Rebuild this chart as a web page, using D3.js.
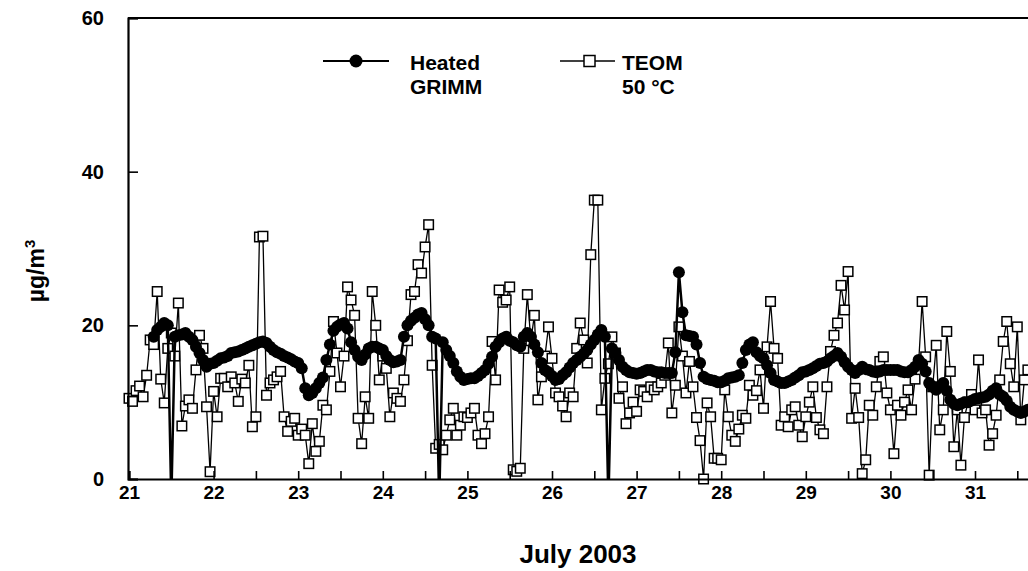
<!DOCTYPE html>
<html>
<head>
<meta charset="utf-8">
<script src="https://cdn.jsdelivr.net/npm/d3@7/dist/d3.min.js"></script>
<style>
  html, body { margin: 0; padding: 0; background: #fff; }
  svg { display: block; }
  text { font-family: "Liberation Sans", Arial, sans-serif; font-weight: bold; fill: #000; }
</style>
</head>
<body>
<svg id="chart" width="1028" height="571"></svg>
<script>
// ---------------- DATA ----------------
// Time axis: days of July 2003; hourly samples
const dayTicks = [21, 22, 23, 24, 25, 26, 27, 28, 29, 30, 31];
const yTicks = [0, 20, 40, 60];
const seriesNames = ["Heated", "GRIMM", "TEOM", "50 \u00B0C"];
const xTitle = "July 2003";

// TEOM 50 °C, hourly values starting 21 July 00:00 (µg/m³)
const teomStartDay = 21;
const teomValues = [
  10.5, 10.1, 11.5, 12.1, 10.7, 13.5, 18.1, 17.5, 24.4, 13.0,
  9.9, 17.0, 19.0, 16.0, 22.9, 6.9, 9.5, 10.3, 9.2, 14.2,
  18.7, 17.0, 9.4, 0.95, 11.4, 8.1, 13.1, 13.1, 12.0, 13.3,
  12.5, 10.1, 13.0, 12.5, 14.8, 6.8, 8.1, 31.5, 31.6, 10.9,
  12.5, 12.9, 13.3, 14.0, 8.1, 6.2, 7.5, 7.9, 5.7, 6.5,
  5.7, 2.0, 7.2, 3.6, 4.9, 9.6, 9.0, 14.0, 20.5, 16.4,
  12.0, 16.0, 25.0, 23.3, 21.3, 7.9, 4.6, 10.7, 7.9, 24.4,
  20.0, 12.9, 16.0, 14.4, 8.1, 11.2, 10.5, 10.1, 12.9, 18.0,
  24.0, 24.4, 27.9, 26.8, 30.2, 33.1, 14.8, 4.0, 4.5, 3.8,
  5.7, 7.7, 9.2, 5.7, 7.0, 8.1, 8.0, 8.6, 9.2, 5.7,
  4.6, 5.9, 8.1, 17.9, 12.9, 24.6, 23.0, 23.3, 25.0, 1.2,
  1.0, 1.4, 17.0, 24.0, 18.0, 21.3, 10.3, 13.3, 16.0, 19.8,
  15.7, 11.2, 10.7, 9.5, 8.1, 11.2, 10.7, 17.0, 20.3, 18.1,
  15.1, 29.2, 36.3, 36.3, 9.0, 13.1, 15.0, 18.5, 16.4, 10.5,
  12.0, 7.2, 8.6, 10.0, 8.8, 11.6, 11.4, 10.7, 12.0, 11.6,
  12.0, 12.5, 13.5, 17.7, 8.6, 12.2, 19.8, 16.0, 11.2, 15.3,
  12.0, 8.0, 5.0, 0.0, 9.9, 8.1, 2.7, 2.7, 2.5, 11.6,
  8.1, 5.7, 4.9, 6.5, 8.3, 7.9, 12.2, 10.9, 11.5, 14.2,
  9.2, 17.2, 23.1, 17.0, 15.7, 7.0, 8.1, 6.8, 9.0, 9.4,
  7.0, 5.5, 8.1, 10.0, 12.0, 8.0, 6.4, 5.9, 12.0, 16.6,
  18.7, 20.3, 25.2, 22.0, 27.0, 7.9, 11.8, 8.0, 0.7, 2.5,
  9.6, 8.3, 12.0, 15.3, 15.9, 11.2, 9.0, 3.3, 9.6, 8.3,
  10.0, 11.6, 9.0, 13.0, 15.0, 23.1, 15.9, 0.5, 12.0, 17.4,
  6.4, 9.0, 19.2, 14.0, 4.2, 9.0, 1.8, 8.0, 10.0, 11.0,
  9.0, 15.5, 8.6, 9.0, 4.4, 5.9, 8.3, 12.9, 17.9, 20.5,
  15.0, 12.0, 19.8, 7.7, 12.9, 14.2
];

// Heated GRIMM, hourly values starting 21 July 07:00 (µg/m³)
const grimmStartDay = 21 + 7 / 24;
const grimmValues = [
  18.5, 19.4, 19.8, 20.3, 20.0, -3, 18.5, 18.7, 18.8, 19.0,
  18.5, 18.1, 17.2, 16.4, 15.5, 14.6, 15.0, 15.1, 15.4, 15.7,
  15.8, 16.0, 16.4, 16.5, 16.6, 16.8, 17.0, 17.2, 17.4, 17.6,
  17.8, 17.9, 17.7, 17.2, 16.8, 16.5, 16.3, 16.0, 15.8, 15.6,
  15.3, 15.1, 14.4, 11.8, 10.9, 11.2, 11.8, 12.5, 13.2, 15.5,
  17.5, 19.3, 19.8, 20.1, 20.3, 19.6, 17.8, 16.8, 15.9, 15.5,
  16.2, 17.0, 17.2, 17.2, 17.0, 16.8, 16.0, 15.5, 15.2, 15.3,
  15.5, 18.5, 20.0, 20.6, 21.0, 21.4, 21.6, 20.8, 20.0, 18.5,
  18.3, -3, 17.8, 16.8, 16.0, 15.1, 14.0, 13.3, 12.9, 13.0,
  13.1, 13.1, 13.4, 13.8, 14.2, 15.0, 15.9, 17.2, 17.8, 18.3,
  18.5, 18.0, 17.8, 17.4, 17.2, 18.5, 19.0, 18.5, 17.5, 16.5,
  15.1, 14.2, 13.9, 13.4, 12.9, 13.0, 13.5, 13.9, 14.5, 15.1,
  15.5, 15.9, 16.3, 16.8, 17.5, 18.1, 18.8, 19.4, 18.5, -3,
  17.0, 16.4, 15.5, 14.6, 14.2, 13.9, 13.8, 13.7, 13.8, 14.0,
  14.2, 14.2, 14.0, 13.9, 13.9, 13.8, 13.8, 13.8, 16.5, 26.9,
  21.7, 18.7, 18.6, 18.5, 17.5, 15.1, 13.3, 13.0, 12.9, 12.8,
  12.6, 12.6, 12.8, 13.1, 13.2, 13.3, 13.5, 15.1, 16.8, 17.5,
  17.8, 16.5, 16.0, 15.7, 14.8, 13.8, 12.9, 12.7, 12.5, 12.5,
  12.7, 12.9, 13.2, 13.5, 13.9, 14.0, 14.2, 14.4, 14.7, 15.0,
  15.1, 15.3, 15.7, 16.0, 16.4, 15.9, 15.2, 14.6, 14.2, 13.8,
  14.2, 14.6, 14.3, 14.2, 14.0, 13.9, 14.0, 14.2, 14.2, 14.2,
  14.2, 14.2, 14.0, 13.9, 13.9, 14.2, 14.6, 15.5, 15.0, 14.0,
  12.5, 12.0, 11.6, 12.0, 12.5, 11.5, 10.3, 9.8, 9.6, 9.8,
  10.0, 10.0, 10.2, 10.4, 10.5, 10.6, 10.7, 11.0, 11.5, 11.8,
  11.0, 10.7, 10.2, 9.4, 9.0, 8.8, 8.6, 8.8, 9.0
];

// ---------------- CHART ----------------
const svg = d3.select("#chart");
const left = 129, dayPx = 84.6;
const x = d3.scaleLinear().domain([21, 32]).range([left, left + 11 * dayPx]);
const y = d3.scaleLinear().domain([0, 60]).range([479, 18]);

const teom = teomValues.map((v, i) => ({ t: teomStartDay + i / 24, v }));
const grimm = grimmValues.map((v, i) => ({ t: grimmStartDay + i / 24, v }));

svg.append("defs").append("clipPath").attr("id", "plotclip")
  .append("rect").attr("x", x(21) - 1).attr("y", y(60)).attr("width", x(32) - x(21) + 2).attr("height", y(0) - y(60));

const line = d3.line().x(d => x(d.t)).y(d => y(d.v));

// TEOM (underneath)
const gT = svg.append("g");
gT.append("path").datum(teom).attr("d", line)
  .attr("fill", "none").attr("stroke", "#000").attr("stroke-width", 1.3);
const sq = 9.5;
gT.selectAll("rect").data(teom).join("rect")
  .attr("x", d => x(d.t) - sq / 2).attr("y", d => y(d.v) - sq / 2)
  .attr("width", sq).attr("height", sq)
  .attr("fill", "#fff").attr("stroke", "#000").attr("stroke-width", 1.5);

// GRIMM (on top)
const gG = svg.append("g").attr("clip-path", "url(#plotclip)");
gG.append("path").datum(grimm).attr("d", line)
  .attr("fill", "none").attr("stroke", "#000").attr("stroke-width", 2.5);
gG.selectAll("circle").data(grimm).join("circle")
  .attr("cx", d => x(d.t)).attr("cy", d => y(d.v)).attr("r", 6).attr("fill", "#000");

// Axes
const halfDays = d3.range(21, 32.01, 0.5);
const xAxis = d3.axisBottom(x).tickValues(halfDays).tickSize(-8).tickPadding(7)
  .tickFormat(d => (Number.isInteger(d) && dayTicks.includes(d)) ? d : "");
const gx = svg.append("g").attr("transform", `translate(0,${y(0)})`).call(xAxis);
gx.select(".domain").attr("stroke-width", 2.2);
gx.selectAll(".tick line").attr("stroke-width", 1.6);
gx.selectAll(".tick text").style("font-size", "19px").style("font-family", "Liberation Sans, Arial, sans-serif").style("font-weight", "bold");

const yAxis = d3.axisLeft(y).tickValues(yTicks).tickSize(-10).tickPadding(24);
const gy = svg.append("g").attr("transform", `translate(${x(21) - 1},0)`).call(yAxis);
gy.select(".domain").attr("stroke-width", 2.2);
gy.selectAll(".tick line").attr("stroke-width", 1.6);
gy.selectAll(".tick text").style("font-size", "20px").style("font-family", "Liberation Sans, Arial, sans-serif").style("font-weight", "bold");

// top border
svg.append("line").attr("x1", x(21) - 1).attr("x2", x(32)).attr("y1", y(60)).attr("y2", y(60))
  .attr("stroke", "#000").attr("stroke-width", 2.2);

// Axis titles
svg.append("text").attr("x", 578).attr("y", 563).attr("text-anchor", "middle")
  .style("font-size", "26px").text(xTitle);
const yt = svg.append("text").attr("transform", "translate(44,271) rotate(-90)")
  .attr("text-anchor", "middle").style("font-size", "23px");
yt.append("tspan").text("\u00B5g/m");
yt.append("tspan").attr("dy", -9).style("font-size", "15px").text("3");

// Legend
const lg = svg.append("g");
lg.append("line").attr("x1", 323).attr("x2", 389).attr("y1", 61).attr("y2", 61).attr("stroke", "#000").attr("stroke-width", 2);
lg.append("circle").attr("cx", 356).attr("cy", 61).attr("r", 6.5).attr("fill", "#000");
lg.append("text").attr("x", 410).attr("y", 70).style("font-size", "21px").text(seriesNames[0]);
lg.append("text").attr("x", 410).attr("y", 94).style("font-size", "21px").text(seriesNames[1]);
lg.append("line").attr("x1", 560).attr("x2", 615).attr("y1", 61).attr("y2", 61).attr("stroke", "#000").attr("stroke-width", 1.3);
lg.append("rect").attr("x", 584).attr("y", 55.5).attr("width", 11).attr("height", 11).attr("fill", "#fff").attr("stroke", "#000").attr("stroke-width", 1.5);
lg.append("text").attr("x", 622).attr("y", 70).style("font-size", "21px").text(seriesNames[2]);
lg.append("text").attr("x", 622).attr("y", 94).style("font-size", "21px").text(seriesNames[3]);
</script>
</body>
</html>
